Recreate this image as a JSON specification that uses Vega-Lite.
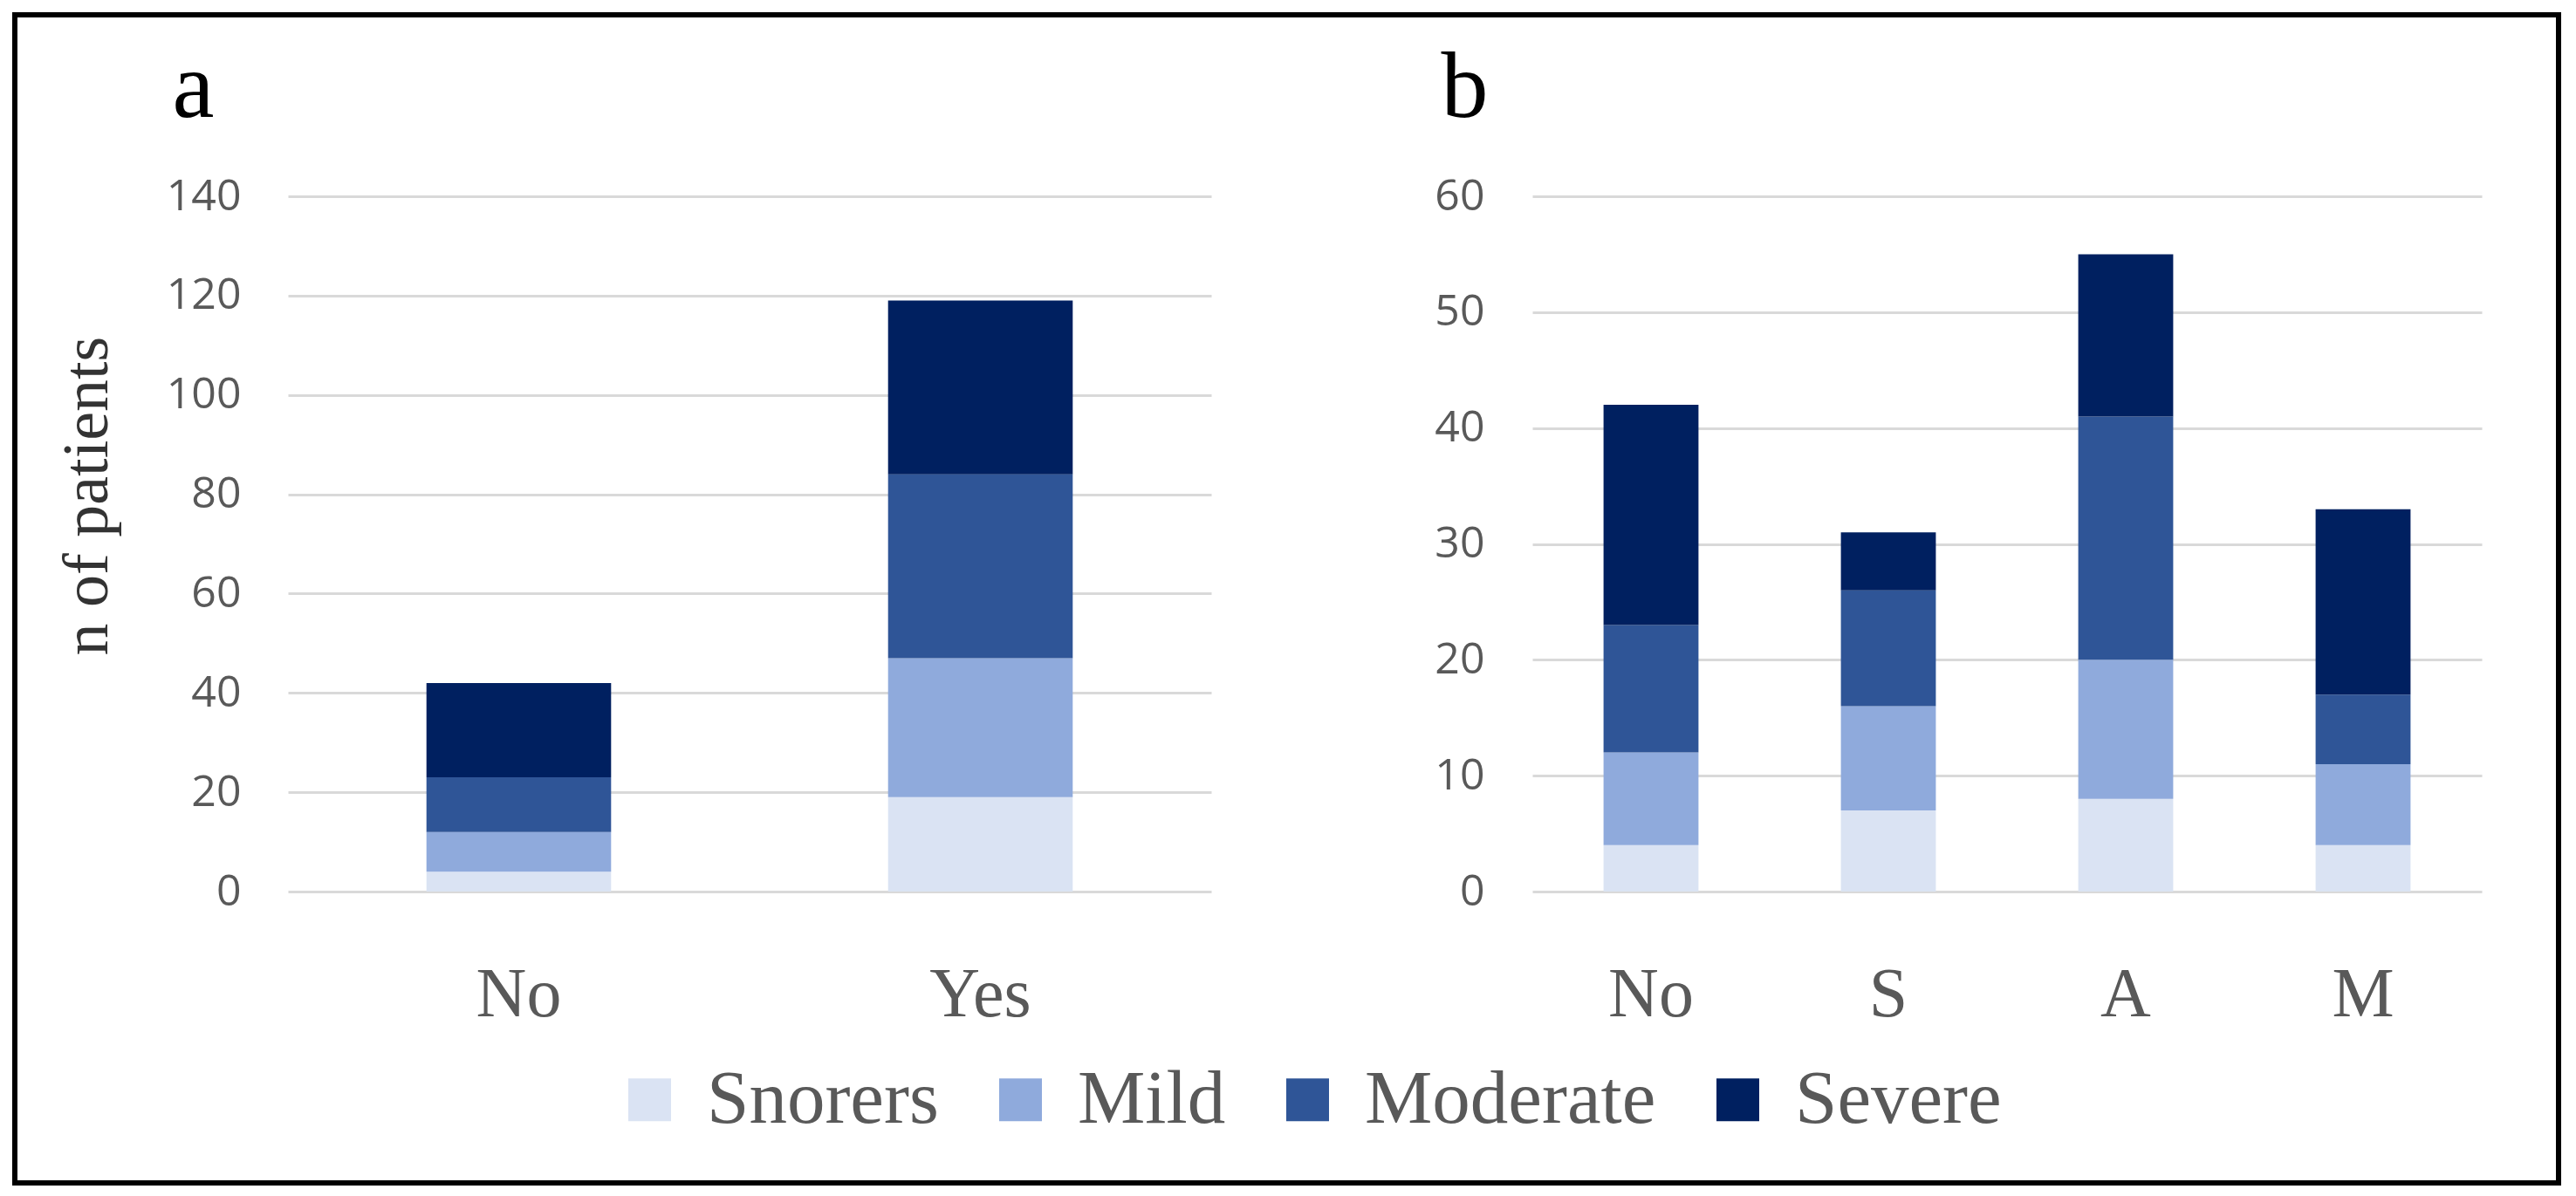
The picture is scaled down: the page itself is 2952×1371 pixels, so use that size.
{
  "$schema": "https://vega.github.io/schema/vega-lite/v6.json",
  "width": 2915,
  "height": 1339,
  "autosize": {"type": "none"},
  "padding": {"left": 17, "top": 17, "right": 20, "bottom": 15},
  "background": "white",
  "config": {
    "view": {"stroke": "black", "strokeWidth": 6},
    "axis": {"labelLimit": 1000, "titleLimit": 2000}
  },
  "data": {
    "values": [
      {"panel": "a", "group": "No", "severity": "Snorers", "rank": 1, "n": 4},
      {"panel": "a", "group": "No", "severity": "Mild", "rank": 2, "n": 8},
      {"panel": "a", "group": "No", "severity": "Moderate", "rank": 3, "n": 11},
      {"panel": "a", "group": "No", "severity": "Severe", "rank": 4, "n": 19},
      {"panel": "a", "group": "Yes", "severity": "Snorers", "rank": 1, "n": 19},
      {"panel": "a", "group": "Yes", "severity": "Mild", "rank": 2, "n": 28},
      {"panel": "a", "group": "Yes", "severity": "Moderate", "rank": 3, "n": 37},
      {"panel": "a", "group": "Yes", "severity": "Severe", "rank": 4, "n": 35},
      {"panel": "b", "group": "No", "severity": "Snorers", "rank": 1, "n": 4},
      {"panel": "b", "group": "No", "severity": "Mild", "rank": 2, "n": 8},
      {"panel": "b", "group": "No", "severity": "Moderate", "rank": 3, "n": 11},
      {"panel": "b", "group": "No", "severity": "Severe", "rank": 4, "n": 19},
      {"panel": "b", "group": "S", "severity": "Snorers", "rank": 1, "n": 7},
      {"panel": "b", "group": "S", "severity": "Mild", "rank": 2, "n": 9},
      {"panel": "b", "group": "S", "severity": "Moderate", "rank": 3, "n": 10},
      {"panel": "b", "group": "S", "severity": "Severe", "rank": 4, "n": 5},
      {"panel": "b", "group": "A", "severity": "Snorers", "rank": 1, "n": 8},
      {"panel": "b", "group": "A", "severity": "Mild", "rank": 2, "n": 12},
      {"panel": "b", "group": "A", "severity": "Moderate", "rank": 3, "n": 21},
      {"panel": "b", "group": "A", "severity": "Severe", "rank": 4, "n": 14},
      {"panel": "b", "group": "M", "severity": "Snorers", "rank": 1, "n": 4},
      {"panel": "b", "group": "M", "severity": "Mild", "rank": 2, "n": 7},
      {"panel": "b", "group": "M", "severity": "Moderate", "rank": 3, "n": 6},
      {"panel": "b", "group": "M", "severity": "Severe", "rank": 4, "n": 16}
    ]
  },
  "layer": [
    {
      "transform": [{"filter": "datum.panel === 'a'"}],
      "mark": {"type": "bar"},
      "encoding": {
        "x": {
          "field": "group", "type": "nominal", "sort": ["No", "Yes"],
          "scale": {"domain": ["No", "Yes"], "range": [313, 1371], "paddingInner": 0.6, "paddingOuter": 0.3},
          "axis": {
            "orient": "bottom", "offset": -334, "domain": false, "ticks": false, "tickSize": 0, "grid": false,
            "labelAngle": 0, "labelFont": "Liberation Serif", "labelFontSize": 80, "labelColor": "#595959",
            "labelPadding": 142, "labelBaseline": "alphabetic",
            "title": "a", "titleFont": "Liberation Serif", "titleFontSize": 108, "titleFontWeight": "normal",
            "titleColor": "black", "titleX": 180, "titleY": -889, "titleAlign": "left", "titleBaseline": "alphabetic", "titleAngle": 0
          }
        },
        "y": {
          "field": "n", "type": "quantitative", "stack": "zero",
          "scale": {"domain": [0, 140], "range": [1005, 208], "nice": false},
          "axis": {
            "orient": "left", "offset": -313, "values": [0, 20, 40, 60, 80, 100, 120, 140],
            "domain": false, "ticks": false, "tickSize": 0, "grid": true, "gridColor": "#d9d9d9", "gridWidth": 3,
            "labelFont": "Open Sans", "labelFontSize": 50, "labelColor": "#595959", "labelPadding": 54,
            "title": "n of patients", "titleFont": "Liberation Serif", "titleFontSize": 74, "titleFontWeight": "normal",
            "titleColor": "#333333", "titleAngle": -90, "titleX": -208, "titleY": 551, "titleAlign": "center", "titleBaseline": "alphabetic"
          }
        },
        "color": {
          "field": "severity", "type": "nominal",
          "scale": {"domain": ["Snorers", "Mild", "Moderate", "Severe"], "range": ["#dae3f3", "#8faadc", "#2f5597", "#002060"]},
          "legend": {
            "orient": "none", "legendX": 684, "legendY": 1200, "direction": "horizontal", "title": null,
            "symbolType": "square", "symbolSize": 2401, "symbolStrokeWidth": 0, "symbolOpacity": 1,
            "labelFont": "Liberation Serif", "labelFontSize": 87, "labelColor": "#595959", "labelOffset": 22,
            "labelLimit": 1000, "columnPadding": 50, "padding": 0
          }
        },
        "order": {"field": "rank", "type": "quantitative", "sort": "ascending"}
      }
    },
    {
      "transform": [{"filter": "datum.panel === 'b'"}],
      "mark": {"type": "bar"},
      "encoding": {
        "x": {
          "field": "group", "type": "nominal", "sort": ["No", "S", "A", "M"],
          "scale": {"domain": ["No", "S", "A", "M"], "range": [1739, 2827], "paddingInner": 0.6, "paddingOuter": 0.3},
          "axis": {
            "orient": "bottom", "offset": -334, "domain": false, "ticks": false, "tickSize": 0, "grid": false,
            "labelAngle": 0, "labelFont": "Liberation Serif", "labelFontSize": 80, "labelColor": "#595959",
            "labelPadding": 142, "labelBaseline": "alphabetic", "title": null
          }
        },
        "y": {
          "field": "n", "type": "quantitative", "stack": "zero",
          "scale": {"domain": [0, 60], "range": [1005, 208], "nice": false},
          "axis": {
            "orient": "left", "offset": -1739, "values": [0, 10, 20, 30, 40, 50, 60],
            "domain": false, "ticks": false, "tickSize": 0, "grid": true, "gridColor": "#d9d9d9", "gridWidth": 3,
            "labelFont": "Open Sans", "labelFontSize": 50, "labelColor": "#595959", "labelPadding": 55,
            "title": "b", "titleFont": "Liberation Serif", "titleFontSize": 108, "titleFontWeight": "normal",
            "titleColor": "black", "titleAngle": 0, "titleX": -105, "titleY": 116, "titleAlign": "left", "titleBaseline": "alphabetic"
          }
        },
        "color": {
          "field": "severity", "type": "nominal",
          "scale": {"domain": ["Snorers", "Mild", "Moderate", "Severe"], "range": ["#dae3f3", "#8faadc", "#2f5597", "#002060"]}
        },
        "order": {"field": "rank", "type": "quantitative", "sort": "ascending"}
      }
    }
  ],
  "resolve": {
    "scale": {"x": "independent", "y": "independent", "color": "shared"},
    "axis": {"x": "independent", "y": "independent"}
  }
}
